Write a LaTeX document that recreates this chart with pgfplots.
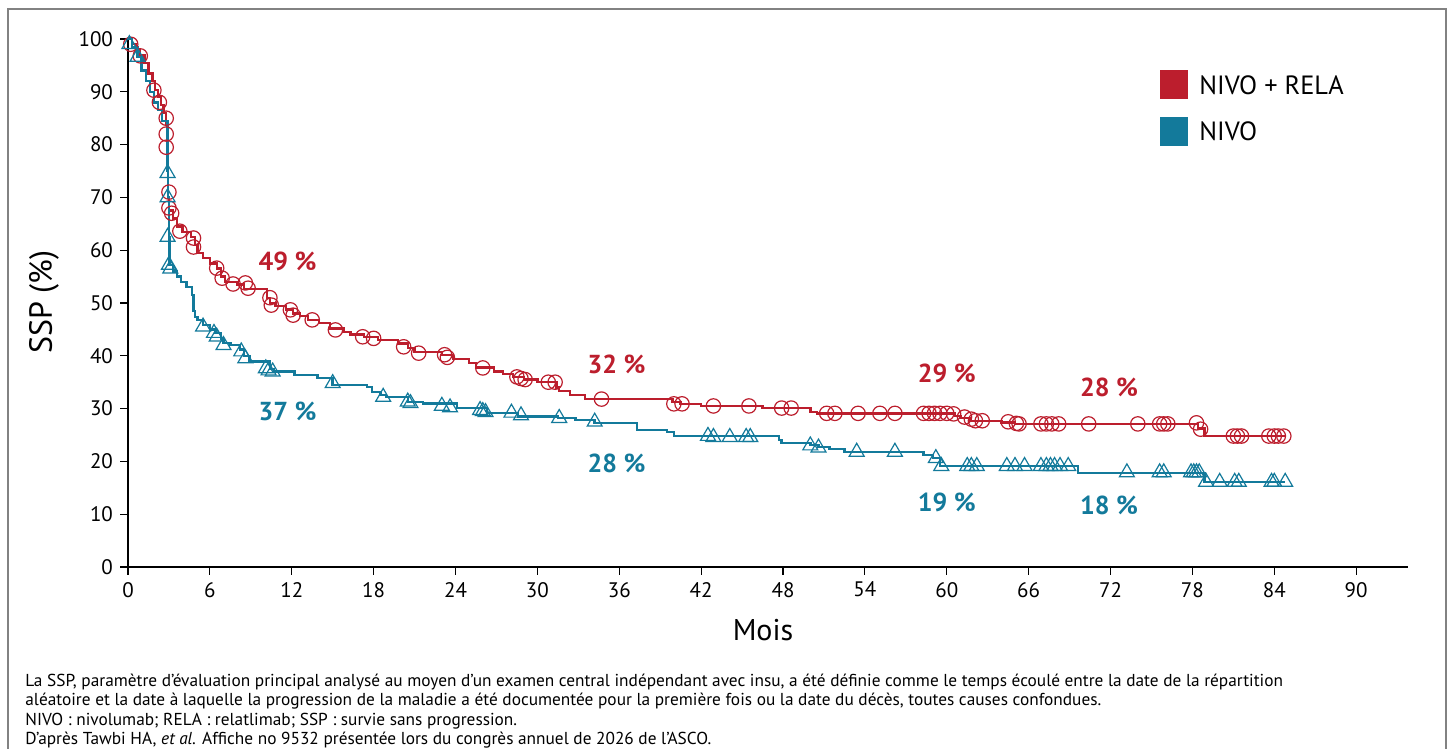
\documentclass[border=0pt]{standalone}
\usepackage{pgfplots}
\pgfplotsset{compat=1.18}
\usepackage{fontspec}
\setmainfont{PT Sans}
\definecolor{redc}{RGB}{188,30,45}
\definecolor{bluec}{RGB}{19,122,155}
\definecolor{framec}{RGB}{130,130,130}
\begin{document}
\begin{tikzpicture}
\useasboundingbox (-64pt,-91pt) rectangle (661pt,283.5pt);
\draw[framec, line width=0.8pt] (-60pt,-100pt) -- (-60pt,279pt) -- (659pt,279pt) -- (659pt,-100pt);
\begin{axis}[
 at={(0pt,0pt)}, anchor=south west,
 scale only axis, width=640pt, height=264pt,
 xmin=0, xmax=93.8, ymin=0, ymax=100,
 axis lines=left, axis line style={-, line width=1.3pt, black},
 xtick={0,6,...,90}, ytick={0,10,...,100},
 tick align=outside, major tick length=4pt,
 tick style={line width=0.6pt, black},
 ticklabel style={font=\fontsize{10.5}{12}\selectfont},
 /pgf/number format/assume math mode=true,
 clip=false,
]
% NIVO + RELA curve
\addplot[const plot, redc, line width=1.2pt, no marks] coordinates {
(0,100)(0.3,99)(0.6,98)(0.9,97)(1.2,95.5)(1.5,93.5)(1.8,92)(2.0,90.3)(2.2,89)(2.4,87.5)(2.6,86)(2.8,84)(2.85,80)(2.9,75)(2.95,70)(3.0,67.5)(3.3,66)(3.6,64.5)(4.0,63.5)(4.6,62.5)(4.9,61)(5.1,59.5)(5.5,58.5)(6.0,57.5)(6.5,56.5)(6.8,55)(7.1,54)(8.0,53.5)(8.5,52.6)(10.2,51)(10.4,50)(10.8,49.4)(11.6,48.8)(12.1,48)(12.6,47.5)(13.2,46.8)(14.0,46.2)(14.8,45.2)(15.8,44.5)(16.3,44)(17.3,43.6)(18.3,43)(19.8,42.3)(20.5,41.5)(21.0,40.7)(23.0,40.2)(23.8,39.4)(25.0,38.6)(25.5,37.8)(26.8,37)(27.5,36.5)(28.2,36)(29.0,35.5)(30.0,35)(31.4,34)(31.6,33.3)(32.4,32.6)(33.5,31.8)(39.9,31.2)(40.5,30.9)(42.0,30.5)(46.5,30.1)(50.0,29.4)(50.5,29.1)(60.6,28.6)(61.0,28.2)(61.7,27.7)(64.0,27.4)(65.0,27.1)(78.4,26.2)(78.9,24.8)(84.8,24.8)
};
\addplot[only marks, mark=o, mark size=3.6pt, redc, mark options={line width=0.6pt}] coordinates {
(0.2,99)(0.9,96.8)(1.9,90.3)(2.3,88)(2.8,85)(2.8,82)(2.8,79.5)(3.0,71)(3.0,68)(3.2,67)(3.8,63.6)(4.8,62.3)(4.8,60.6)(6.5,56.6)(6.9,54.7)(7.7,53.6)(8.6,53.8)(8.8,52.8)(10.4,51)(10.5,49.6)(11.9,48.7)(12.1,47.7)(13.5,46.8)(15.2,44.9)(17.2,43.6)(18.0,43.3)(20.2,41.7)(21.3,40.5)(23.2,40.2)(23.4,39.7)(26.0,37.7)(28.5,36)(28.8,35.7)(29.1,35.5)(30.8,35)(31.3,35)(34.7,31.8)(40.0,30.9)(40.6,30.9)(42.9,30.5)(45.5,30.5)(47.9,30.1)(48.6,30.1)(51.2,29.1)(51.8,29.1)(53.5,29.1)(55.1,29.1)(56.2,29.1)(58.3,29.1)(58.7,29.1)(59.1,29.1)(59.5,29.1)(60.0,29.1)(60.5,29.0)(61.3,28.4)(61.8,28)(62.1,27.7)(62.6,27.7)(64.5,27.5)(65.1,27.2)(65.3,27.1)(66.9,27.1)(67.3,27.1)(67.7,27.1)(68.2,27.1)(70.4,27.1)(74.0,27.1)(75.6,27.1)(75.9,27.1)(76.2,27.1)(78.3,27.3)(78.6,26.1)(81.0,24.8)(81.3,24.8)(81.6,24.8)(83.6,24.8)(84.0,24.8)(84.3,24.8)(84.7,24.8)
};
% NIVO curve
\addplot[const plot, bluec, line width=1.2pt, no marks] coordinates {
(0,100)(0.3,98.5)(0.7,96.6)(1.0,94)(1.3,92)(1.6,90)(1.9,88)(2.2,86.5)(2.5,84.5)(2.9,75)(2.95,70)(3.0,62.5)(3.05,57.2)(3.3,56)(3.6,55)(3.9,54)(4.3,53)(4.7,51.5)(4.8,48.5)(4.9,47.4)(5.1,46.8)(5.5,45.8)(6.0,45)(6.4,44.3)(6.8,43.2)(7.0,42.4)(7.5,42)(8.2,41.2)(8.5,40)(8.9,38.9)(10.4,37.5)(10.7,37)(12.2,36.4)(13.9,35.8)(15.0,34.5)(17.5,34.1)(17.9,33.2)(18.5,32.6)(18.9,32.2)(20.5,31.3)(21.6,31)(24.1,30.1)(26.3,29.2)(28.6,28.5)(31.5,28.2)(32.8,27.8)(34.2,27.3)(37.3,26)(39.5,25.6)(40.0,24.8)(47.7,24.0)(47.9,23.5)(50.0,23.1)(50.6,22.7)(51.4,22.4)(52.5,21.8)(58.3,21.2)(59.0,20.6)(59.5,19.1)(69.6,17.8)(78.9,16.1)(84.8,16.1)
};
\addplot[only marks, mark=triangle, mark size=4.3pt, bluec, mark options={line width=0.6pt}] coordinates {
(0.1,99)(0.7,96.6)(2.9,74.6)(2.9,70)(2.9,62.5)(3.0,57.2)(3.1,56.5)(5.5,45.5)(6.3,44.3)(6.5,43.6)(7.0,42)(8.3,40.8)(8.6,39.5)(10.1,37.6)(10.3,37.2)(10.6,37)(15.0,34.8)(18.7,32.2)(20.5,31.3)(20.7,31)(23.0,30.5)(23.6,30.2)(25.8,29.7)(26.0,29.5)(26.2,29.3)(28.1,29.2)(28.8,28.7)(31.6,28.2)(34.2,27.5)(42.5,24.8)(42.9,24.6)(44.1,24.6)(45.3,24.6)(45.6,24.6)(50.0,23)(50.6,22.6)(53.4,21.8)(56.2,21.8)(59.2,20.6)(59.6,19.1)(61.5,19.1)(61.8,19.1)(62.2,19.1)(64.4,19.1)(65.0,19.1)(65.7,19.1)(66.9,19.1)(67.3,19.1)(67.6,19.1)(67.9,19.1)(68.3,19.1)(68.9,19.1)(73.2,17.9)(75.6,17.9)(75.9,17.9)(77.9,17.9)(78.1,17.9)(78.3,17.9)(78.5,17.9)(79.0,16.1)(80.0,16.1)(81.1,16.1)(81.4,16.1)(83.8,16.1)(84.0,16.1)(84.8,16.1)
};
\begin{scope}[font=\fontsize{13}{15}\selectfont\bfseries]
\node[text=redc] at (axis cs:11.7,57.8) {49 \%};
\node[text=bluec] at (axis cs:11.7,29.4) {37 \%};
\node[text=redc] at (axis cs:35.8,38.3) {32 \%};
\node[text=bluec] at (axis cs:35.8,19.7) {28 \%};
\node[text=redc] at (axis cs:60.0,36.6) {29 \%};
\node[text=bluec] at (axis cs:60.0,12.3) {19 \%};
\node[text=redc] at (axis cs:71.9,34.1) {28 \%};
\node[text=bluec] at (axis cs:71.9,11.6) {18 \%};
\end{scope}
\end{axis}
% axis labels
\node[rotate=90, font=\fontsize{16}{18}\selectfont] at (-42pt,132.5pt) {SSP (\%)};
\node[font=\fontsize{15}{18}\selectfont] at (317.5pt,-31.5pt) {Mois};
% legend
\fill[redc] (516pt,234pt) rectangle (530pt,248.5pt);
\fill[bluec] (516pt,210.5pt) rectangle (530pt,225pt);
\node[anchor=west, font=\fontsize{13.2}{15}\selectfont, inner sep=0pt] at (535.5pt,241pt) {NIVO + RELA};
\node[anchor=west, font=\fontsize{13.2}{15}\selectfont, inner sep=0pt] at (535.5pt,218pt) {NIVO};
% footnotes
\begin{scope}[every node/.style={anchor=base west, inner sep=0pt, font=\fontsize{8.65}{10}\selectfont}]
\node at (-51.5pt,-59.5pt) {La SSP, paramètre d'évaluation principal analysé au moyen d'un examen central indépendant avec insu, a été définie comme le temps écoulé entre la date de la répartition};
\node at (-51.5pt,-69.3pt) {aléatoire et la date à laquelle la progression de la maladie a été documentée pour la première fois ou la date du décès, toutes causes confondues.};
\node at (-51.5pt,-79pt) {NIVO : nivolumab; RELA : relatlimab; SSP : survie sans progression.};
\node at (-51.5pt,-88.8pt) {D'après Tawbi HA, \textit{et al.} Affiche no 9532 présentée lors du congrès annuel de 2026 de l'ASCO.};
\end{scope}
\end{tikzpicture}
\end{document}
